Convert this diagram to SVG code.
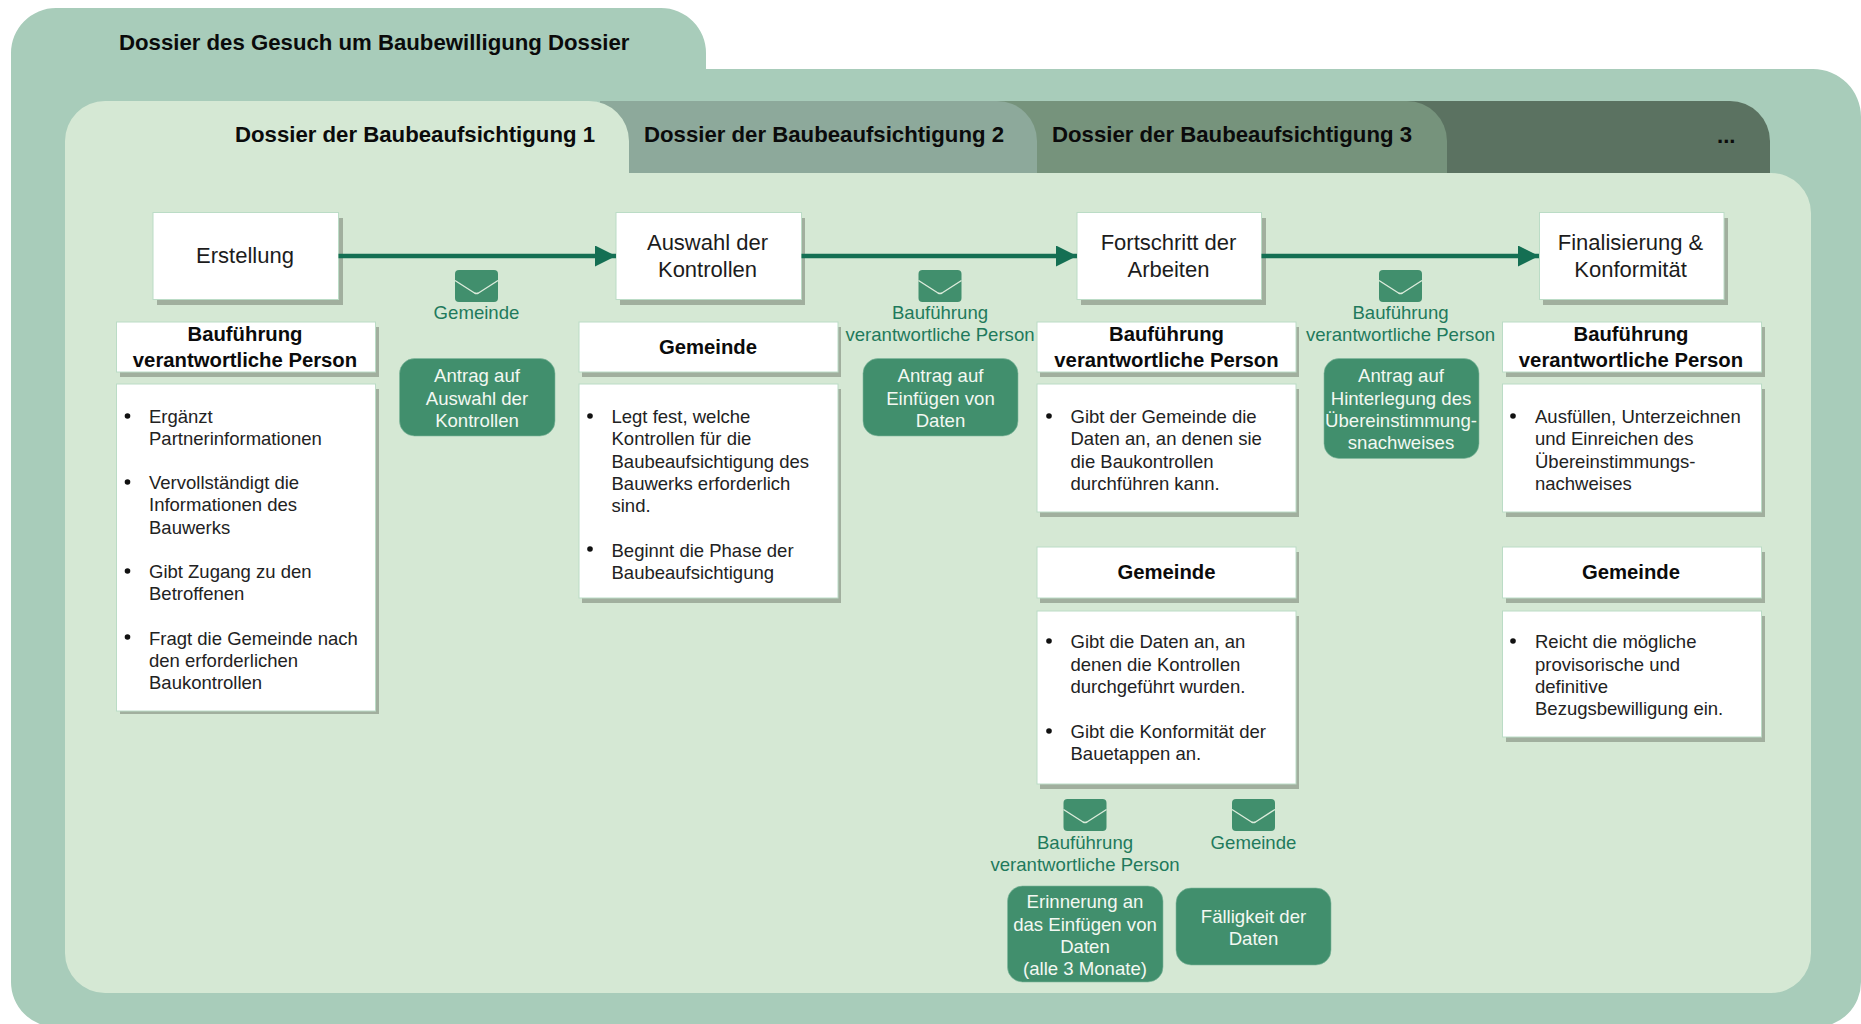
<svg xmlns="http://www.w3.org/2000/svg" width="1861" height="1024" viewBox="0 0 1861 1024">
<style>
text{font-family:"Liberation Sans",Arial,sans-serif}
.box{fill:#fff;stroke:#BBDCC6;stroke-width:1}
.sh{fill:#A1AF9E}
.pill{fill:#418F6D;stroke:#7FB79C;stroke-width:.6}
.env{fill:#418F6D}
.flap{fill:none;stroke:#DCEBDB;stroke-width:1.4}
.title{font-size:22.2px;font-weight:bold;fill:#0b0b0b}
.node{font-size:22px;fill:#1c1c1c;text-anchor:middle}
.hd{font-size:20.3px;font-weight:bold;fill:#0b0b0b;text-anchor:middle}
.li{font-size:18.5px;fill:#222;transform:translateY(.6px)}
.rcp{font-size:18.6px;fill:#1F7A5C;text-anchor:middle;transform:translateY(.6px)}
.pt{font-size:18.6px;fill:#F3F8F2;text-anchor:middle;transform:translateY(.6px)}
.dot{fill:#111}
.conn{stroke:#146F53;stroke-width:4.4;fill:none;marker-end:url(#ah)}
</style>
<defs>
<marker id="ah" markerUnits="userSpaceOnUse" markerWidth="21" markerHeight="21" refX="21" refY="10.500" orient="auto"><path d="M0 0L21 10.500L0 21Z" fill="#146F53"/></marker>
<g id="envelope"><rect class="env" x="-21.5" y="0" width="43" height="32" rx="4"/><path class="flap" d="M-21.5 10.500L-2 23Q0 24 2 23L21.500 10.500"/></g>
</defs>
<g id="outer-dossier">
<path d="M11 53A45 45 0 0 1 56 8H661A45 45 0 0 1 706 53V69H1813A48 48 0 0 1 1861 117V982A45 45 0 0 1 1816 1027H56A45 45 0 0 1 11 982Z" fill="#A8CCBA"/>
<text class="title" x="119" y="49.500">Dossier des Gesuch um Baubewilligung Dossier</text>
</g>
<g id="tab-more">
<path d="M1350 173V101H1730A40 40 0 0 1 1770 141V173Z" fill="#5B7261"/>
<text class="title" x="1717" y="143">...</text>
</g>
<g id="tab-3">
<path d="M950 173V101H1407A40 40 0 0 1 1447 141V173Z" fill="#76937C"/>
<text class="title" x="1052" y="141.500">Dossier der Baubeaufsichtigung 3</text>
</g>
<g id="tab-2">
<path d="M600 173V101H997A40 40 0 0 1 1037 141V173Z" fill="#8DA99B"/>
<text class="title" x="644" y="141.500">Dossier der Baubeaufsichtigung 2</text>
</g>
<g id="tab-1">
<path d="M65 141A40 40 0 0 1 105 101H589A40 40 0 0 1 629 141V173H1771A40 40 0 0 1 1811 213V953A40 40 0 0 1 1771 993H105A40 40 0 0 1 65 953Z" fill="#D5E8D4"/>
<text class="title" x="235" y="141.500">Dossier der Baubeaufsichtigung 1</text>
</g>
<g id="node-erstellung"><rect class="sh" x="157" y="218" width="186" height="87"/><rect class="box" x="153" y="212.500" width="185.500" height="87"/><text class="node" x="245" y="262.500">Erstellung</text></g>
<g id="node-auswahl"><rect class="sh" x="620" y="218" width="185" height="87"/><rect class="box" x="616" y="212.500" width="185.500" height="87"/><text class="node" x="707.500" y="250">Auswahl der<tspan x="707.500" y="277">Kontrollen</tspan></text></g>
<g id="node-fortschritt"><rect class="sh" x="1081" y="218" width="185" height="87"/><rect class="box" x="1077" y="212.500" width="184.500" height="87"/><text class="node" x="1168.500" y="250">Fortschritt der<tspan x="1168.500" y="277">Arbeiten</tspan></text></g>
<g id="node-finalisierung"><rect class="sh" x="1543" y="218" width="185" height="87"/><rect class="box" x="1539.500" y="212.500" width="184.500" height="87"/><text class="node" x="1630.500" y="250">Finalisierung &amp;<tspan x="1630.500" y="277">Konformität</tspan></text></g>
<g id="connectors">
<line class="conn" x1="338.500" y1="256" x2="616" y2="256"/>
<line class="conn" x1="801.500" y1="256" x2="1077" y2="256"/>
<line class="conn" x1="1261.500" y1="256" x2="1539" y2="256"/>
</g>

<g id="c1-header"><rect class="sh" x="120" y="327" width="259" height="50"/><rect class="box" x="116.500" y="322" width="259" height="50"/><text class="hd" x="245" y="341">Bauführung<tspan x="245" y="367">verantwortliche Person</tspan></text></g>
<g id="c1-body"><rect class="sh" x="120" y="389" width="259" height="325"/><rect class="box" x="116.500" y="384" width="259" height="327"/>
<circle class="dot" cx="127.500" cy="416" r="2.800"/><circle class="dot" cx="127.500" cy="482" r="2.800"/><circle class="dot" cx="127.500" cy="571" r="2.800"/><circle class="dot" cx="127.500" cy="637" r="2.800"/>
<text class="li" x="149" y="422">Ergänzt<tspan x="149" y="444">Partnerinformationen</tspan><tspan x="149" y="488">Vervollständigt die</tspan><tspan x="149" y="510">Informationen des</tspan><tspan x="149" y="533">Bauwerks</tspan><tspan x="149" y="577">Gibt Zugang zu den</tspan><tspan x="149" y="599">Betroffenen</tspan><tspan x="149" y="644">Fragt die Gemeinde nach</tspan><tspan x="149" y="666">den erforderlichen</tspan><tspan x="149" y="688">Baukontrollen</tspan></text></g>

<g id="c2-header"><rect class="sh" x="582" y="327" width="259" height="50"/><rect class="box" x="579" y="322" width="259" height="50"/><text class="hd" x="708" y="354">Gemeinde</text></g>
<g id="c2-body"><rect class="sh" x="582" y="389" width="259" height="214"/><rect class="box" x="579" y="384" width="259" height="214"/>
<circle class="dot" cx="590" cy="416" r="2.800"/><circle class="dot" cx="590" cy="549" r="2.800"/>
<text class="li" x="611.500" y="422">Legt fest, welche<tspan x="611.500" y="444">Kontrollen für die</tspan><tspan x="611.500" y="467">Baubeaufsichtigung des</tspan><tspan x="611.500" y="489">Bauwerks erforderlich</tspan><tspan x="611.500" y="511">sind.</tspan><tspan x="611.500" y="556">Beginnt die Phase der</tspan><tspan x="611.500" y="578">Baubeaufsichtigung</tspan></text></g>

<g id="c3-header"><rect class="sh" x="1040" y="327" width="259" height="50"/><rect class="box" x="1037" y="322" width="259" height="50"/><text class="hd" x="1166.500" y="341">Bauführung<tspan x="1166.500" y="367">verantwortliche Person</tspan></text></g>
<g id="c3-body"><rect class="sh" x="1040" y="389" width="259" height="128"/><rect class="box" x="1037" y="384" width="259" height="128"/>
<circle class="dot" cx="1049" cy="416" r="2.800"/>
<text class="li" x="1070.500" y="422">Gibt der Gemeinde die<tspan x="1070.500" y="444">Daten an, an denen sie</tspan><tspan x="1070.500" y="467">die Baukontrollen</tspan><tspan x="1070.500" y="489">durchführen kann.</tspan></text></g>
<g id="c3-header-2"><rect class="sh" x="1040" y="552" width="259" height="51"/><rect class="box" x="1037" y="547" width="259" height="51"/><text class="hd" x="1166.500" y="579">Gemeinde</text></g>
<g id="c3-body-2"><rect class="sh" x="1040" y="616" width="259" height="173"/><rect class="box" x="1037" y="611" width="259" height="173"/>
<circle class="dot" cx="1049" cy="641" r="2.800"/><circle class="dot" cx="1049" cy="731" r="2.800"/>
<text class="li" x="1070.500" y="647.500">Gibt die Daten an, an<tspan x="1070.500" y="670">denen die Kontrollen</tspan><tspan x="1070.500" y="692">durchgeführt wurden.</tspan><tspan x="1070.500" y="737">Gibt die Konformität der</tspan><tspan x="1070.500" y="759">Bauetappen an.</tspan></text></g>

<g id="c4-header"><rect class="sh" x="1506" y="327" width="259" height="50"/><rect class="box" x="1502.500" y="322" width="259" height="50"/><text class="hd" x="1631" y="341">Bauführung<tspan x="1631" y="367">verantwortliche Person</tspan></text></g>
<g id="c4-body"><rect class="sh" x="1506" y="389" width="259" height="128"/><rect class="box" x="1502.500" y="384" width="259" height="128"/>
<circle class="dot" cx="1513" cy="416" r="2.800"/>
<text class="li" x="1535" y="422">Ausfüllen, Unterzeichnen<tspan x="1535" y="444">und Einreichen des</tspan><tspan x="1535" y="467">Übereinstimmungs-</tspan><tspan x="1535" y="489">nachweises</tspan></text></g>
<g id="c4-header-2"><rect class="sh" x="1506" y="552" width="259" height="51"/><rect class="box" x="1502.500" y="547" width="259" height="51"/><text class="hd" x="1631" y="579">Gemeinde</text></g>
<g id="c4-body-2"><rect class="sh" x="1506" y="616" width="259" height="126"/><rect class="box" x="1502.500" y="611" width="259" height="126"/>
<circle class="dot" cx="1513" cy="641" r="2.800"/>
<text class="li" x="1535" y="647.500">Reicht die mögliche<tspan x="1535" y="670">provisorische und</tspan><tspan x="1535" y="692">definitive</tspan><tspan x="1535" y="714">Bezugsbewilligung ein.</tspan></text></g>

<g id="msg-1"><use href="#envelope" x="476.500" y="270"/><text class="rcp" x="476.500" y="318">Gemeinde</text><rect class="pill" x="399.500" y="358.500" width="155.500" height="77.500" rx="15"/><text class="pt" x="477" y="381">Antrag auf<tspan x="477" y="404">Auswahl der</tspan><tspan x="477" y="426">Kontrollen</tspan></text></g>
<g id="msg-2"><use href="#envelope" x="940" y="270"/><text class="rcp" x="940" y="318">Bauführung<tspan x="940" y="340">verantwortliche Person</tspan></text><rect class="pill" x="863" y="358.500" width="155" height="77.500" rx="15"/><text class="pt" x="940.500" y="381">Antrag auf<tspan x="940.500" y="404">Einfügen von</tspan><tspan x="940.500" y="426">Daten</tspan></text></g>
<g id="msg-3"><use href="#envelope" x="1400.500" y="270"/><text class="rcp" x="1400.500" y="318">Bauführung<tspan x="1400.500" y="340">verantwortliche Person</tspan></text><rect class="pill" x="1324" y="358.500" width="155" height="100" rx="15"/><text class="pt" x="1401" y="381">Antrag auf<tspan x="1401" y="404">Hinterlegung des</tspan><tspan x="1401" y="426">Übereinstimmung-</tspan><tspan x="1401" y="448">snachweises</tspan></text></g>
<g id="msg-4"><use href="#envelope" x="1085" y="799"/><text class="rcp" x="1085" y="848">Bauführung<tspan x="1085" y="870">verantwortliche Person</tspan></text><rect class="pill" x="1007.500" y="886" width="155.500" height="96" rx="15"/><text class="pt" x="1085" y="907">Erinnerung an<tspan x="1085" y="930">das Einfügen von</tspan><tspan x="1085" y="952">Daten</tspan><tspan x="1085" y="974">(alle 3 Monate)</tspan></text></g>
<g id="msg-5"><use href="#envelope" x="1253.500" y="799"/><text class="rcp" x="1253.500" y="848">Gemeinde</text><rect class="pill" x="1176" y="888" width="155" height="77" rx="15"/><text class="pt" x="1253.500" y="922">Fälligkeit der<tspan x="1253.500" y="944">Daten</tspan></text></g>
</svg>
